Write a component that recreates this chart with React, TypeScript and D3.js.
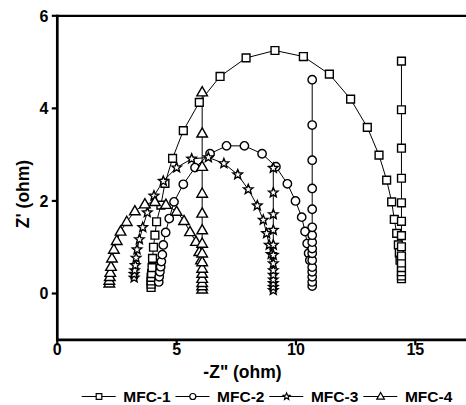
import React from "react";
import * as d3 from "d3";

const W = 466;
const H = 405;

// MFC-1 (squares)
const mfc1X = [3.93, 3.93, 3.93, 3.93, 3.95, 3.97, 3.99, 4.03, 4.09, 4.16, 4.34, 4.51, 4.83, 5.28, 5.95, 6.82, 7.91, 9.12, 10.31, 11.4, 12.29, 12.99, 13.48, 13.8, 14.01, 14.12, 14.22, 14.29, 14.33, 14.36,
  14.42, 14.42, 14.42, 14.42, 14.42, 14.42, 14.42, 14.42, 14.42, 14.42, 14.42, 14.42, 14.42, 14.42];
const mfc1Y = [0.13, 0.2, 0.27, 0.35, 0.43, 0.56, 0.76, 1.0, 1.26, 1.55, 1.91, 2.38, 2.92, 3.52, 4.13, 4.69, 5.09, 5.25, 5.12, 4.74, 4.2, 3.59, 2.99, 2.45, 1.98, 1.6, 1.3, 1.05, 0.88, 0.72,
  0.32, 0.38, 0.47, 0.56, 0.66, 0.81, 1.01, 1.25, 1.56, 1.96, 2.49, 3.14, 3.97, 5.02];

// MFC-2 (circles)
const mfc2X = [4.25, 4.27, 4.3, 4.33, 4.36, 4.4, 4.44, 4.54, 4.69, 4.89, 5.28, 5.77, 6.4, 7.09, 7.84, 8.58, 9.16, 9.64, 9.98, 10.24, 10.38, 10.47, 10.53, 10.58,
  10.68, 10.68, 10.68, 10.68, 10.68, 10.68, 10.68, 10.68, 10.68, 10.68, 10.68, 10.68, 10.68, 10.68, 10.68, 10.68];
const mfc2Y = [0.25, 0.36, 0.47, 0.58, 0.69, 0.84, 1.05, 1.32, 1.62, 1.98, 2.36, 2.72, 3.02, 3.19, 3.19, 3.02, 2.74, 2.37, 2.0, 1.65, 1.34, 1.08, 0.87, 0.72,
  0.16, 0.25, 0.36, 0.47, 0.57, 0.72, 0.87, 0.97, 1.11, 1.26, 1.43, 1.82, 2.27, 2.88, 3.64, 4.62];

// MFC-3 (stars)
const mfc3X = [3.22, 3.22, 3.24, 3.27, 3.3, 3.34, 3.44, 3.58, 3.77, 4.05, 4.44, 5.0, 5.63, 6.33, 6.98, 7.56, 8.0, 8.38, 8.63, 8.77, 8.88, 8.96,
  9.05, 9.05, 9.05, 9.05, 9.05, 9.05, 9.05, 9.05, 9.05, 9.05, 9.05, 9.05, 9.05];
const mfc3Y = [0.34, 0.42, 0.5, 0.61, 0.77, 0.95, 1.17, 1.43, 1.75, 2.11, 2.43, 2.72, 2.91, 2.94, 2.81, 2.57, 2.25, 1.9, 1.59, 1.3, 1.05, 0.85,
  0.07, 0.14, 0.22, 0.3, 0.4, 0.5, 0.65, 0.83, 1.05, 1.37, 1.71, 2.18, 2.71];

// MFC-4 (triangles)
const mfc4X = [2.18, 2.18, 2.2, 2.22, 2.25, 2.29, 2.37, 2.49, 2.65, 2.91, 3.25, 3.67, 4.09, 4.55, 5.0, 5.31, 5.56, 5.81, 5.95, 6.02,
  6.07, 6.07, 6.07, 6.07, 6.07, 6.07, 6.07, 6.07, 6.07, 6.07, 6.07, 6.07, 6.07, 6.07, 6.07];
const mfc4Y = [0.22, 0.28, 0.36, 0.45, 0.58, 0.76, 0.95, 1.14, 1.34, 1.55, 1.78, 1.93, 1.98, 1.92, 1.77, 1.57, 1.33, 1.12, 0.9, 0.72,
  0.09, 0.16, 0.23, 0.32, 0.43, 0.54, 0.68, 0.87, 1.08, 1.37, 1.73, 2.16, 2.74, 3.46, 4.35];

const seriesNames = ["MFC-1", "MFC-2", "MFC-3", "MFC-4"];
const xTicks = [0, 5, 10, 15];
const yTicks = [0, 2, 4, 6];

type Shape = "square" | "circle" | "star" | "triangle";
const shapes: Shape[] = ["square", "circle", "star", "triangle"];

function markerPath(shape: Shape, s: number): string {
  if (shape === "square") {
    const h = 3.9 * s;
    return `M${-h},${-h}H${h}V${h}H${-h}Z`;
  }
  if (shape === "circle") {
    const r = 4.2 * s;
    return `M${r},0A${r},${r} 0 1,1 ${-r},0A${r},${r} 0 1,1 ${r},0Z`;
  }
  if (shape === "triangle") {
    const w = 5.3 * s;
    const h = 9.2 * s;
    return `M0,${-h * 0.6}L${w},${h * 0.4}L${-w},${h * 0.4}Z`;
  }
  const ro = 5.0 * s;
  const ri = 2.2 * s;
  let d = "";
  for (let i = 0; i < 10; i++) {
    const r = i % 2 === 0 ? ro : ri;
    const a = -Math.PI / 2 + (i * Math.PI) / 5;
    d += (i === 0 ? "M" : "L") + (r * Math.cos(a)).toFixed(2) + "," + (r * Math.sin(a)).toFixed(2);
  }
  return d + "Z";
}

export default function App() {
  const x = d3.scaleLinear().domain([0, 15]).range([57.3, 415.3]);
  const y = d3.scaleLinear().domain([-1, 6]).range([339.8, 15.8]);

  const series = [
    { xs: mfc1X, ys: mfc1Y },
    { xs: mfc2X, ys: mfc2Y },
    { xs: mfc3X, ys: mfc3Y },
    { xs: mfc4X, ys: mfc4Y },
  ];

  const line = d3
    .line<[number, number]>()
    .x((d) => x(d[0]))
    .y((d) => y(d[1]));

  const font = "'Liberation Sans', Arial, sans-serif";
  const legendStarts = [81.7, 175.5, 269.3, 363.3];

  return (
    <svg
      width={W}
      height={H}
      style={{ position: "absolute", left: 0, top: 0, background: "#fff" }}
      fontFamily={font}
    >
      {series.map((s, i) => {
        const pts = s.xs.map((v, j) => [v, s.ys[j]] as [number, number]);
        return (
          <path key={"l" + i} d={line(pts) || ""} fill="none" stroke="#000" strokeWidth={1} />
        );
      })}
      {series.map((s, i) =>
        s.xs.map((v, j) => (
          <path
            key={"m" + i + "-" + j}
            d={markerPath(shapes[i], 1)}
            transform={`translate(${x(v)},${y(s.ys[j])})`}
            fill="#fff"
            stroke="#000"
            strokeWidth={1.4}
          />
        ))
      )}

      <line x1={x(0)} x2={W} y1={y(6)} y2={y(6)} stroke="#000" strokeWidth={2.2} />
      <line x1={x(0)} x2={x(0)} y1={y(6) - 1} y2={y(-1) + 1.2} stroke="#000" strokeWidth={2.7} />
      <line x1={x(0) - 1.3} x2={W} y1={y(-1)} y2={y(-1)} stroke="#000" strokeWidth={2.7} />

      {yTicks.map((t) => (
        <g key={"yt" + t}>
          <line x1={x(0) - 5.5} x2={x(0)} y1={y(t)} y2={y(t)} stroke="#000" strokeWidth={2.2} />
          <text x={x(0) - 9} y={y(t)} dy="0.36em" textAnchor="end" fontSize={16} fontWeight="bold">
            {t}
          </text>
        </g>
      ))}
      {xTicks.map((t) => (
        <g key={"xt" + t}>
          <line x1={x(t)} x2={x(t)} y1={y(-1)} y2={y(-1) + 5.5} stroke="#000" strokeWidth={2.2} />
          <text x={x(t)} y={354.5} textAnchor="middle" fontSize={16} fontWeight="bold">
            {t}
          </text>
        </g>
      ))}

      <text x={242.5} y={377.5} textAnchor="middle" fontSize={17.5} fontWeight="bold">
        -Z" (ohm)
      </text>
      <text
        transform={`translate(29,194) rotate(-90)`}
        textAnchor="middle"
        fontSize={17.5}
        fontWeight="bold"
      >
        Z' (ohm)
      </text>

      {seriesNames.map((n, i) => {
        const x0 = legendStarts[i];
        const ly = 396.5;
        return (
          <g key={"lg" + i}>
            <line x1={x0} x2={x0 + 34} y1={ly} y2={ly} stroke="#000" strokeWidth={1} />
            <path
              d={markerPath(shapes[i], 0.72)}
              transform={`translate(${x0 + 17.3},${ly})`}
              fill="#fff"
              stroke="#000"
              strokeWidth={1.2}
            />
            <text x={x0 + 41.6} y={ly} dy="0.36em" fontSize={15.5} fontWeight="bold">
              {n}
            </text>
          </g>
        );
      })}
    </svg>
  );
}
